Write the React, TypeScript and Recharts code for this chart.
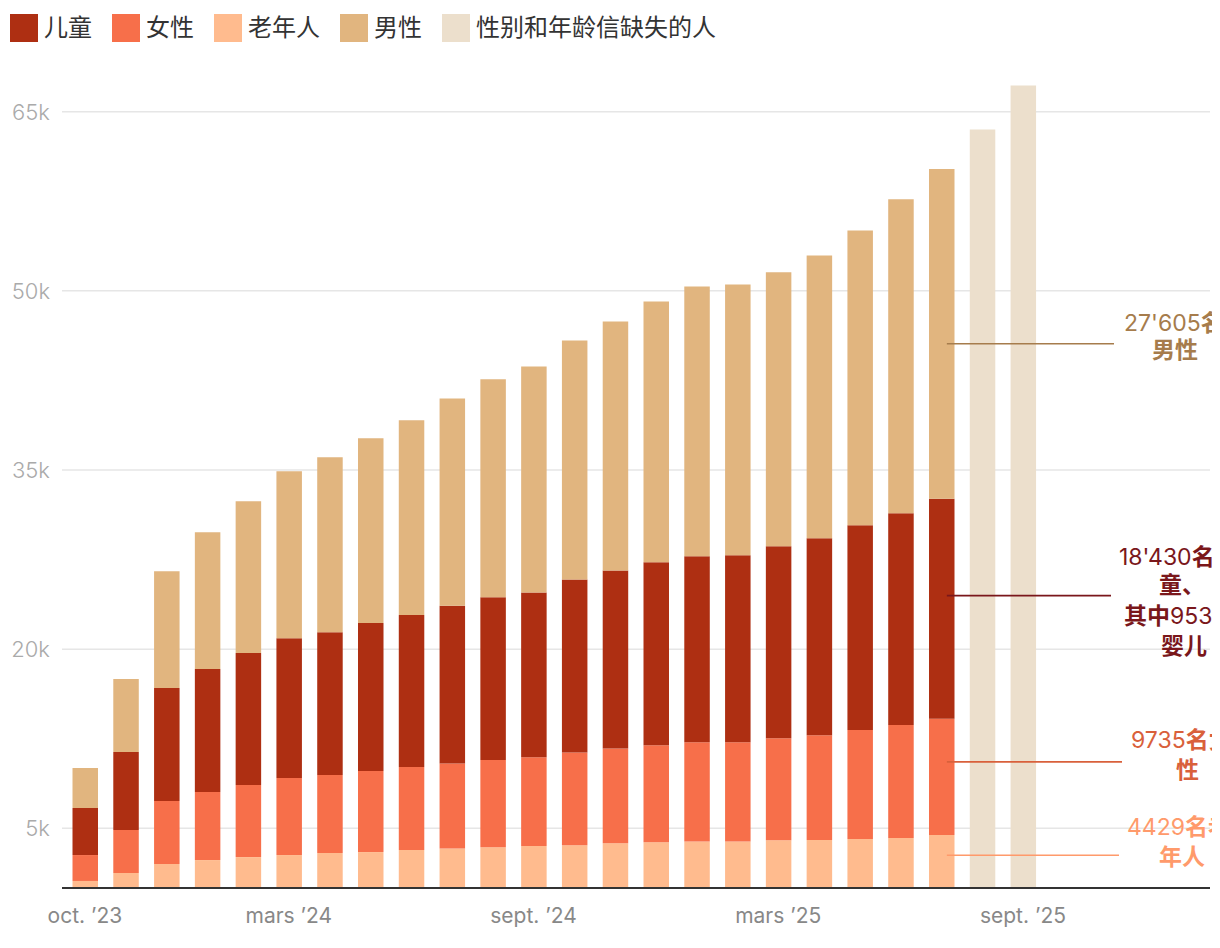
import React from 'react';
import { BarChart, Bar, XAxis, YAxis, CartesianGrid } from 'recharts';

const months = [
  'oct. ’23', 'nov. ’23', 'déc. ’23', 'janv. ’24', 'févr. ’24', 'mars ’24', 'avr. ’24',
  'mai ’24', 'juin ’24', 'juil. ’24', 'août ’24', 'sept. ’24', 'oct. ’24', 'nov. ’24',
  'déc. ’24', 'janv. ’25', 'févr. ’25', 'mars ’25', 'avr. ’25', 'mai ’25', 'juin ’25',
  'juil. ’25', 'août ’25', 'sept. ’25', 'oct. ’25', 'nov. ’25', 'déc. ’25', 'janv. ’26',
];

const elderly = [
  590, 1260, 2010, 2340, 2590, 2760, 2930, 3010, 3180, 3300, 3410, 3510, 3570, 3740,
  3840, 3900, 3900, 4000, 4020, 4100, 4180, 4429, null, null, null, null, null, null,
];
const women = [
  2170, 3590, 5270, 5690, 6030, 6450, 6530, 6780, 6950, 7120, 7300, 7430, 7780, 7940,
  8110, 8310, 8310, 8540, 8780, 9120, 9460, 9735, null, null, null, null, null, null,
];
const children = [
  3930, 6530, 9460, 10300, 11050, 11710, 11960, 12390, 12720, 13220, 13640, 13800, 14490, 14910,
  15330, 15560, 15650, 16080, 16490, 17160, 17740, 18430, null, null, null, null, null, null,
];
const men = [
  3350, 6110, 9790, 11460, 12710, 13980, 14650, 15480, 16310, 17340, 18240, 18920, 20010, 20850,
  21830, 22600, 22680, 22930, 23680, 24680, 26280, 27605, null, null, null, null, null, null,
];
const missing = [
  null, null, null, null, null, null, null, null, null, null, null, null, null, null,
  null, null, null, null, null, null, null, null, 63510, 67200, null, null, null, null,
];

const tickLabels = ['oct. ’23', 'mars ’24', 'sept. ’24', 'mars ’25', 'sept. ’25'];
const yTicks = [5000, 20000, 35000, 50000, 65000];

const data = months.map((month, i) => ({
  month,
  elderly: elderly[i],
  women: women[i],
  children: children[i],
  men: men[i],
  missing: missing[i],
}));

const COLORS = {
  children: '#ae2f12',
  women: '#f76f4a',
  elderly: '#ffbb8e',
  men: '#e1b57f',
  missing: '#ecdfcc',
};

const legendItems = [
  { name: '儿童', color: COLORS.children },
  { name: '女性', color: COLORS.women },
  { name: '老年人', color: COLORS.elderly },
  { name: '男性', color: COLORS.men },
  { name: '性别和年龄信缺失的人', color: COLORS.missing },
];

const NOTE_INDEX = 21;
const FONT = 'Inter, "Noto Sans CJK SC", sans-serif';

type Part = { t: string; bold?: boolean };
type Note = {
  color: string;
  frac: number;
  lineEnd: number;
  lines: { parts: Part[]; dx: number; dy: number }[];
};

// labels for the last full month, placed right of its bar
const notes: Record<string, Note> = {
  men: {
    color: '#a67c4c',
    frac: 0.53,
    lineEnd: 185,
    lines: [
      { parts: [{ t: "27'605" }, { t: '名', bold: true }], dx: 195, dy: -13 },
      { parts: [{ t: '男性', bold: true }], dx: 223, dy: 14 },
    ],
  },
  children: {
    color: '#7a171b',
    frac: 0.44,
    lineEnd: 182,
    lines: [
      { parts: [{ t: "18'430" }, { t: '名儿', bold: true }], dx: 190, dy: -31 },
      { parts: [{ t: '童、', bold: true }], dx: 230, dy: -3 },
      { parts: [{ t: '其中', bold: true }, { t: '953' }, { t: '名', bold: true }], dx: 195, dy: 28 },
      { parts: [{ t: '婴儿', bold: true }], dx: 232, dy: 58 },
    ],
  },
  women: {
    color: '#d9603b',
    frac: 0.37,
    lineEnd: 193,
    lines: [
      { parts: [{ t: '9735' }, { t: '名女', bold: true }], dx: 202, dy: -14 },
      { parts: [{ t: '性', bold: true }], dx: 247, dy: 16 },
    ],
  },
  elderly: {
    color: '#ff9a6b',
    frac: 0.38,
    lineEnd: 190,
    lines: [
      { parts: [{ t: '4429' }, { t: '名老', bold: true }], dx: 198, dy: -20 },
      { parts: [{ t: '年人', bold: true }], dx: 230, dy: 10 },
    ],
  },
};

const makeNote = (key: string) => (props: any) => {
  if (props.index !== NOTE_INDEX) return null;
  const box = props.viewBox && props.viewBox.width != null ? props.viewBox : props;
  const { x, y, width, height } = box;
  const note = notes[key];
  const lineY = y + height * note.frac;
  return (
    <g>
      <line
        x1={x + width * 0.7}
        x2={x + note.lineEnd}
        y1={lineY}
        y2={lineY}
        stroke={note.color}
        strokeWidth={1.6}
      />
      {note.lines.map((ln, i) => (
        <text
          key={i}
          x={x + ln.dx}
          y={lineY + ln.dy}
          fill={note.color}
          fontSize={23}
          fontFamily={FONT}
        >
          {ln.parts.map((p, j) => (
            <tspan key={j} fontWeight={p.bold ? 700 : 400}>
              {p.t}
            </tspan>
          ))}
        </text>
      ))}
    </g>
  );
};

const ChartLegend = () => (
  <div
    style={{
      display: 'flex',
      height: 44,
      paddingTop: 6,
      paddingLeft: 2,
      boxSizing: 'border-box',
      fontFamily: FONT,
    }}
  >
    {legendItems.map((item) => (
      <div
        key={item.name}
        style={{ display: 'flex', alignItems: 'center', height: 28, marginRight: 20 }}
      >
        <span
          style={{ display: 'inline-block', width: 28, height: 28, background: item.color, marginRight: 6 }}
        />
        <span style={{ fontSize: 24, color: '#333', lineHeight: '28px' }}>{item.name}</span>
      </div>
    ))}
  </div>
);

export default function App() {
  return (
    <div style={{ width: 1204, fontFamily: FONT }}>
      <ChartLegend />
      <BarChart
        width={1204}
        height={890}
        data={data}
        margin={{ top: 0, right: 2, left: 0, bottom: 0 }}
        barSize={25.5}
      >
        <CartesianGrid
          vertical={false}
          horizontalValues={yTicks}
          stroke="#e6e6e6"
          strokeWidth={1.5}
        />
        <XAxis
          dataKey="month"
          interval={0}
          height={54}
          padding={{ left: 2.5, right: 3.5 }}
          tickLine={false}
          tickSize={0}
          tickMargin={20}
          axisLine={{ stroke: '#333', strokeWidth: 2 }}
          tick={{ fill: '#888', fontSize: 21, fontFamily: FONT }}
          tickFormatter={(v: string) => (tickLabels.includes(v) ? v : '')}
        />
        <YAxis
          width={54}
          domain={[0, 70000]}
          ticks={yTicks}
          axisLine={false}
          tickLine={false}
          tickSize={0}
          tickMargin={12}
          tick={{ fill: '#aaa', fontSize: 22, fontWeight: 300, fontFamily: FONT }}
          tickFormatter={(v: number) => `${v / 1000}k`}
        />
        <Bar dataKey="elderly" stackId="a" fill={COLORS.elderly} isAnimationActive={false} label={makeNote('elderly')} />
        <Bar dataKey="women" stackId="a" fill={COLORS.women} isAnimationActive={false} label={makeNote('women')} />
        <Bar dataKey="children" stackId="a" fill={COLORS.children} isAnimationActive={false} label={makeNote('children')} />
        <Bar dataKey="men" stackId="a" fill={COLORS.men} isAnimationActive={false} label={makeNote('men')} />
        <Bar dataKey="missing" stackId="a" fill={COLORS.missing} isAnimationActive={false} />
      </BarChart>
    </div>
  );
}
